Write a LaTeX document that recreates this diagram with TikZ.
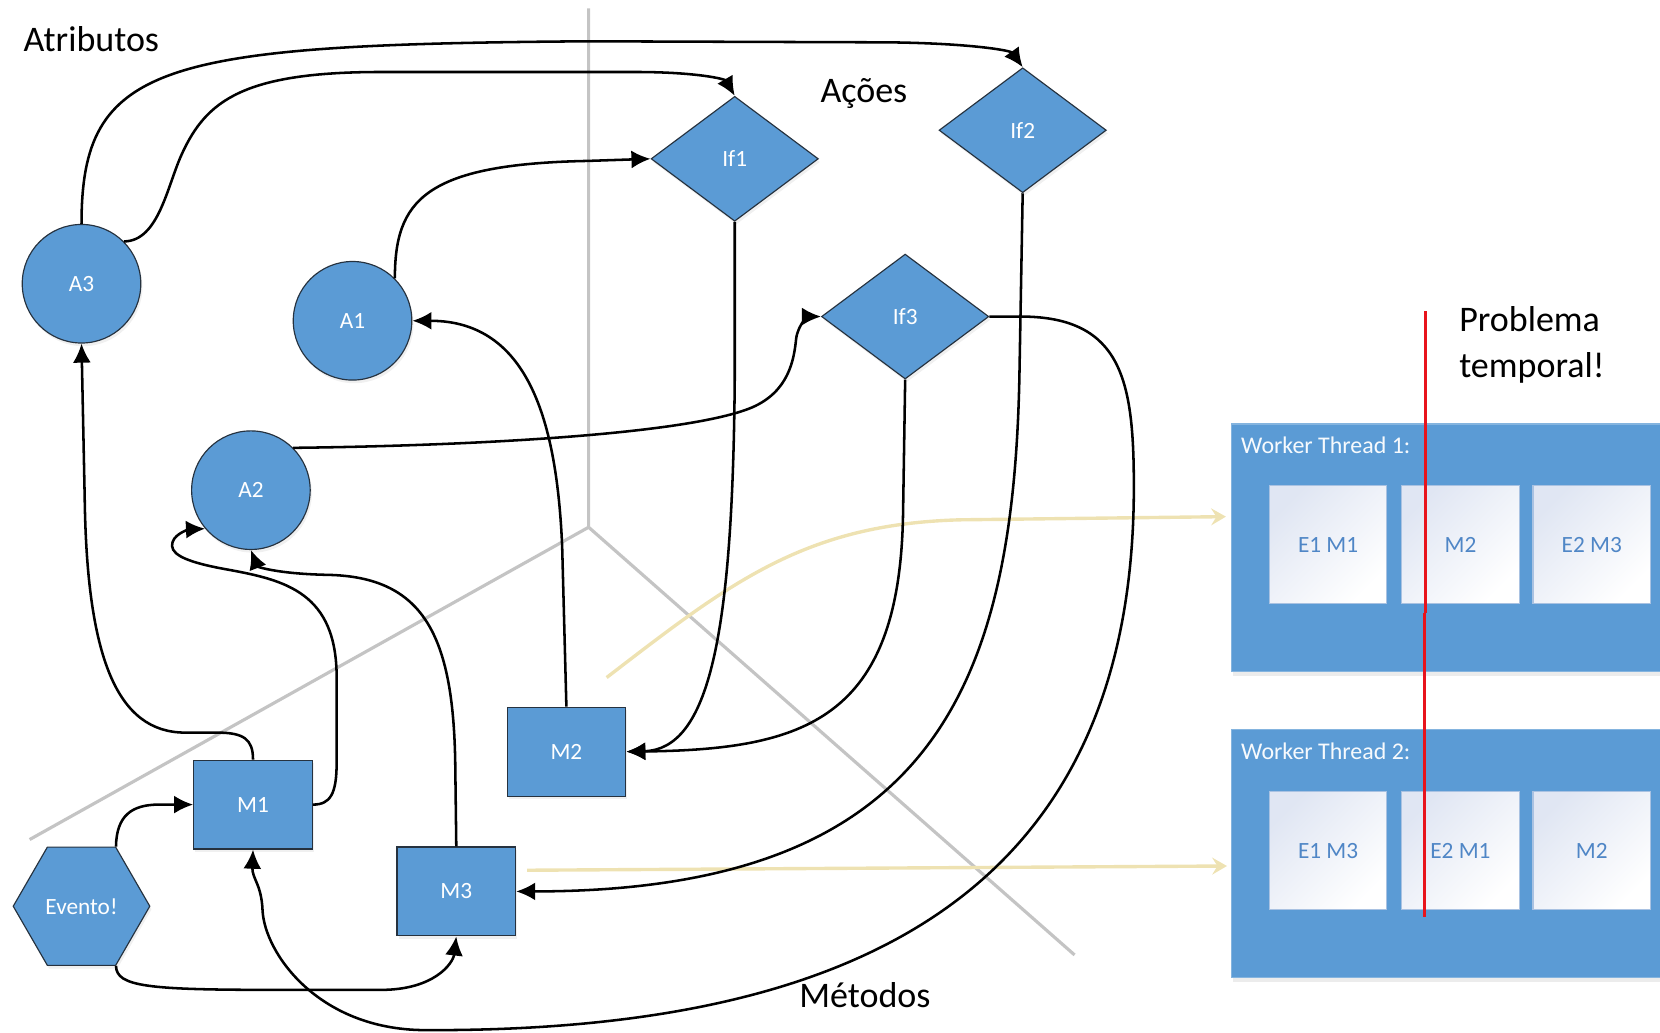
\documentclass[tikz,border=0pt]{standalone}
\usepackage{fontspec}
\setmainfont{Carlito}
\usetikzlibrary{shapes.geometric,arrows.meta,shadows}
\definecolor{nodeblue}{HTML}{5B9BD5}
\definecolor{edgedark}{HTML}{26323F}
\definecolor{axisgray}{HTML}{C4C4C4}
\definecolor{pale}{HTML}{EEE2B2}
\definecolor{redl}{HTML}{E8141C}
\definecolor{slottext}{HTML}{4F86C6}
\definecolor{slotedge}{HTML}{A9C2E2}
\definecolor{slottop}{HTML}{E0E6F3}
\begin{document}
\begin{tikzpicture}[x=0.5pt,y=-0.5pt,
  every node/.style={font=\fontsize{11}{13}\selectfont},
  shapebase/.style={draw=edgedark, line width=0.55pt, fill=nodeblue, text=white, inner sep=0pt,
    drop shadow={opacity=0.12, shadow xshift=0.8pt, shadow yshift=-1.5pt}},
  attr/.style={shapebase, circle, minimum size=56pt},
  act/.style={shapebase, diamond, minimum width=79pt, minimum height=59pt},
  meth/.style={shapebase, rectangle, minimum width=56pt, minimum height=42pt},
  ev/.style={shapebase, regular polygon, regular polygon sides=6, minimum size=64.5pt},
  conn/.style={line width=1.2pt, -{Latex[length=9pt,width=8.5pt]}},
  axisline/.style={draw=axisgray, line width=1.5pt},
  yel/.style={draw=pale, line width=1.6pt, -{Stealth[length=7pt,width=8pt,inset=2.5pt]}},
  big/.style={font=\fontsize{17}{21.5}\selectfont, inner sep=0pt},
  panel/.style={fill=nodeblue, draw=nodeblue!75!white, line width=0.5pt, anchor=north west,
    minimum width=208.5pt, minimum height=117pt, inner sep=0pt,
    drop shadow={opacity=0.15, shadow xshift=0.5pt, shadow yshift=-2pt}},
  ptitle/.style={font=\fontsize{11.3}{13}\selectfont, text=white!95!nodeblue, inner sep=0pt, anchor=west},
  slot/.style={draw=slotedge, line width=0.5pt, top color=slottop, bottom color=white, shading angle=45,
    minimum width=55.5pt, minimum height=55.5pt, inner sep=0pt, text=slottext,
    font=\fontsize{11}{13}\selectfont},
  redline/.style={draw=redl, line width=1.5pt}
]
\useasboundingbox (0,0) rectangle (1568,975);

% axes
\coordinate (O) at (556,498);
\coordinate (Otop) at (556,8);
\coordinate (Oleft) at (28,793);
\coordinate (Oright) at (1015,902);
\draw[axisline] (Otop) -- (O) -- (Oleft);
\draw[axisline] (O) -- (Oright);

% headings
\node[big, anchor=west] (tAtr) at (22,37) {Atributos};
\node[big] (tAco) at (816,88) {Ações};
\node[big] (tMet) at (817,940) {Métodos};
\node[big, anchor=west, align=left] (tProb) at (1378,326) {Problema\\temporal!};

% worker panels
\clip (0,0) rectangle (1568,975);
\node[panel] (WT1) at (1163,400) {};
\node[panel] (WT2) at (1163,689) {};
\node[ptitle] (WT1t) at (1172,421) {Worker Thread 1:};
\node[ptitle] (WT2t) at (1172,710) {Worker Thread 2:};
\node[slot] (s11) at (1254.5,514.5) {E1 M1};
\node[slot] (s12) at (1379.5,514.5) {M2};
\node[slot] (s13) at (1503.5,514.5) {E2 M3};
\node[slot] (s21) at (1254.5,803.5) {E1 M3};
\node[slot] (s22) at (1379.5,803.5) {E2 M1};
\node[slot] (s23) at (1503.5,803.5) {M2};

% nodes
\node[attr] (A3) at (77,268) {A3};
\node[attr] (A1) at (333,303) {A1};
\node[attr] (A2) at (237,463) {A2};
\node[act] (If1) at (694,150) {If1};
\node[act] (If2) at (966,123) {If2};
\node[act] (If3) at (855,299) {If3};
\node[meth] (M1) at (239,760) {M1};
\node[meth] (M2) at (535,710) {M2};
\node[meth] (M3) at (431,842) {M3};
\node[ev] (Ev) at (77,856) {Evento!};

% yellow arrows
\coordinate (y1s) at (573,640);
\coordinate (y1e) at (1158,488);
\coordinate (y2s) at (498,822);
\coordinate (y2e) at (1159,818);
\draw[yel] (y1s) .. controls (690,550) and (760,495) .. (907,491) -- (y1e);
\draw[yel] (y2s) -- (y2e);

% connectors
\draw[conn] (A3.north) .. controls (77,60) and (150,42) .. (555,39) -- (840,40) .. controls (920,41) and (955,48) .. (If2.north);
\draw[conn] (A3.45) .. controls (150,228) and (158,175) .. (172,145) .. controls (195,95) and (230,68) .. (360,68) -- (600,68) .. controls (660,68) and (685,75) .. (If1.north);
\draw[conn] (A1.45) .. controls (373,190) and (400,155) .. (555,152) -- (If1.west);
\draw[conn] (A2.45) .. controls (450,421) and (650,410) .. (710,385) .. controls (745,370) and (750,340) .. (752,320) .. controls (754,305) and (765,299) .. (If3.west);
\draw[conn] (M2.north) -- (531,516) .. controls (526,400) and (500,303) .. (A1.east);
\draw[conn] (If1.south) -- (694,360) .. controls (692,600) and (670,708) .. (M2.east);
\draw[conn] (If3.south) -- (853,485) .. controls (850,680) and (760,708) .. (M2.east);
\draw[conn] (If2.south) -- (963,350) .. controls (958,650) and (880,842) .. (M3.east);
\draw[conn] (If3.east) -- (966,299) .. controls (1060,300) and (1071,360) .. (1071,460) .. controls (1071,850) and (800,975) .. (400,973) .. controls (300,972) and (250,900) .. (248,860) .. controls (247,835) and (238,830) .. (M1.south);
\draw[conn] (M1.north) .. controls (239,698) and (230,692) .. (205,692) -- (175,692) .. controls (110,692) and (82,620) .. (80,470) -- (A3.south);
\draw[conn] (M1.east) .. controls (312,760) and (318,750) .. (318,720) -- (318,640) .. controls (318,560) and (270,548) .. (215,538) .. controls (170,530) and (160,522) .. (163,512) .. controls (166,503) and (180,500) .. (A2.220);
\draw[conn] (M3.north) -- (430,720) .. controls (428,600) and (400,545) .. (310,543) .. controls (260,542) and (243,535) .. (A2.south);
\draw[conn] (Ev.60) .. controls (110,770) and (125,760) .. (150,760) -- (M1.west);
\draw[conn] (Ev.-60) .. controls (110,932) and (140,935) .. (260,935) -- (360,935) .. controls (410,935) and (428,910) .. (M3.south);

% red line
\coordinate (r1) at (1346.3,294);
\coordinate (r2) at (1346.3,579);
\coordinate (r3) at (1345.5,579);
\coordinate (r4) at (1345.5,866);
\draw[redline] (r1) -- (r2);
\draw[redline] (r3) -- (r4);
\end{tikzpicture}
\end{document}
